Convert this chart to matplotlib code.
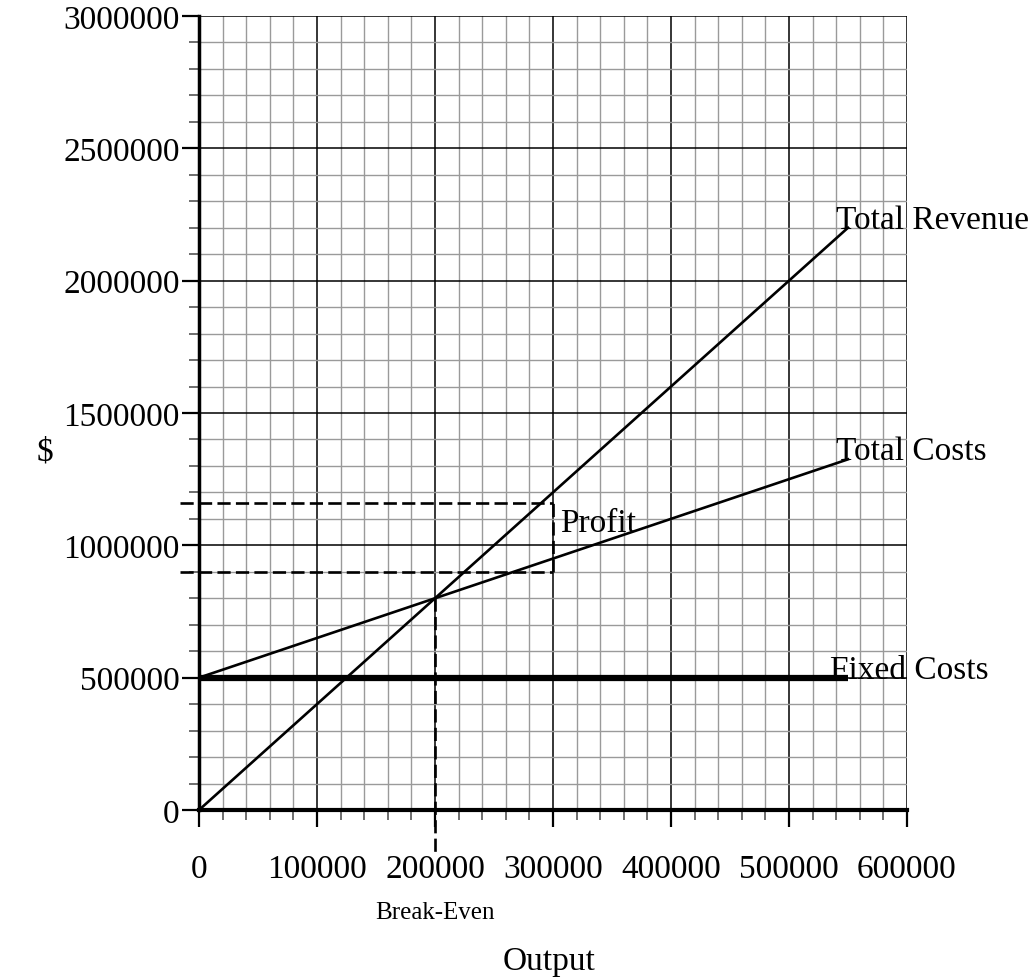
import matplotlib
matplotlib.use("Agg")
import matplotlib.pyplot as plt
from matplotlib.ticker import MultipleLocator

plt.rcParams['font.family'] = ['Liberation Serif', 'DejaVu Serif']

# Data
output_x = [0, 550000]
total_revenue = [0, 2200000]
total_costs = [500000, 1325000]
fixed_costs = [500000, 500000]
break_even_x = 200000
break_even_y = 800000
profit_x = 300000
profit_top = 1160000
profit_bottom = 900000
x_ticks = [0, 100000, 200000, 300000, 400000, 500000, 600000]
y_ticks = [0, 500000, 1000000, 1500000, 2000000, 2500000, 3000000]

fig = plt.figure(figsize=(10.29, 9.79), dpi=100)
ax = fig.add_axes([199/1029, 1 - 811/979, (907-199)/1029, (811-17)/979])
ax.set_xlim(0, 600000)
ax.set_ylim(0, 3000000)

ax.xaxis.set_minor_locator(MultipleLocator(20000))
ax.yaxis.set_minor_locator(MultipleLocator(100000))
ax.set_xticks(x_ticks)
ax.set_yticks(y_ticks)
ax.set_xticklabels([str(v) for v in x_ticks])
ax.set_yticklabels([str(v) for v in y_ticks])

ax.grid(which='minor', color='#9a9a9a', linewidth=1.0)
ax.grid(which='major', color='black', linewidth=1.1)
ax.set_axisbelow(True)

for s in ['top', 'right']:
    ax.spines[s].set_visible(False)
ax.spines['left'].set_linewidth(2.5)
ax.spines['bottom'].set_linewidth(3.0)

ax.tick_params(which='major', direction='out', length=12, width=1.6, color='black',
               labelsize=24, pad=2)
ax.tick_params(which='minor', direction='out', length=7, width=1.2, color='#555555')
ax.tick_params(axis='x', which='major', pad=19)

# Lines
ax.plot(output_x, total_revenue, color='black', lw=1.9, zorder=3)
ax.plot(output_x, total_costs, color='black', lw=1.9, zorder=3)
ax.plot(output_x, fixed_costs, color='black', lw=4.5, zorder=3, solid_capstyle='butt')

dash = (0, (5, 2))
ax.plot([break_even_x, break_even_x], [break_even_y, -160000], color='black', lw=1.9,
        ls=dash, clip_on=False, zorder=3)
ax.plot([-16000, profit_x], [profit_top, profit_top], color='black', lw=1.9,
        ls=dash, clip_on=False, zorder=3)
ax.plot([-16000, profit_x], [profit_bottom, profit_bottom], color='black', lw=1.9,
        ls=dash, clip_on=False, zorder=3)
ax.plot([profit_x, profit_x], [profit_bottom, profit_top], color='black', lw=1.9,
        ls=dash, zorder=3)

# Labels
ax.text(540000, 2200000, 'Total Revenue', fontsize=24, va='baseline', ha='left', clip_on=False)
ax.text(540000, 1325000, 'Total Costs', fontsize=24, va='baseline', ha='left', clip_on=False)
ax.text(535000, 500000, 'Fixed Costs', fontsize=24, va='baseline', ha='left', clip_on=False)
ax.text(306000, 1055000, 'Profit', fontsize=24, va='baseline', ha='left')

fig.text(435/1029, 1 - 913/979, 'Break-Even', fontsize=18, ha='center', va='center')
fig.text(549/1029, 1 - 962/979, 'Output', fontsize=24, ha='center', va='center')
fig.text(45/1029, 1 - 452/979, '$', fontsize=24, ha='center', va='center')

fig.savefig('out.png', dpi=100)
